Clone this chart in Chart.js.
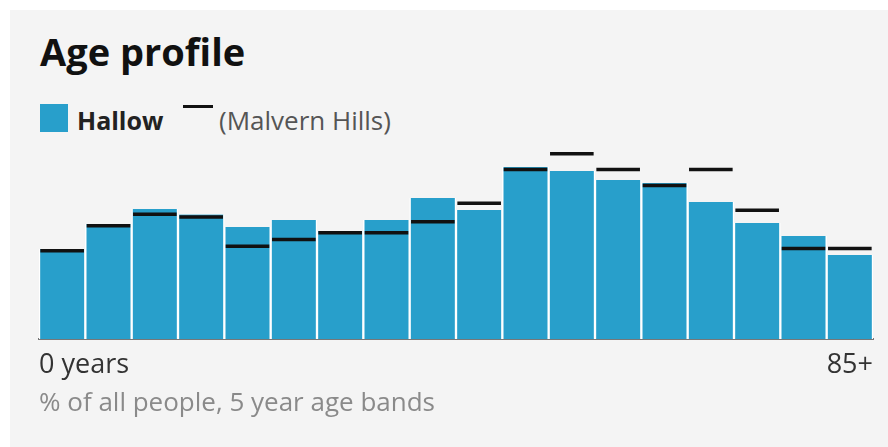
<!DOCTYPE html>
<html>
<head>
<meta charset="utf-8">
<script src="https://cdn.jsdelivr.net/npm/chart.js@4"></script>
<style>
  html, body { margin: 0; padding: 0; background: #fff; width: 888px; height: 447px; overflow: hidden; }
  body { position: relative; font-family: "Open Sans", sans-serif; }
  .panel { position: absolute; left: 10px; top: 10px; right: 0; bottom: 0; background: #f4f4f4; }
  .title { position: absolute; left: 40px; top: 25px; font-size: 38px; font-weight: 700; color: #111; line-height: normal; white-space: nowrap; }
  .key { position: absolute; left: 40px; top: 104px; width: 28px; height: 28px; background: #289fcb; }
  .lbl1 { position: absolute; left: 77px; top: 103px; font-size: 25px; font-weight: 700; color: #222; line-height: normal; white-space: nowrap; }
  .dash { position: absolute; left: 183px; top: 105px; width: 30px; height: 3px; background: #111; }
  .lbl2 { position: absolute; left: 219px; top: 102px; font-size: 26px; color: #555; line-height: normal; white-space: nowrap; }
  canvas { position: absolute; left: 0; top: 0; }
</style>
</head>
<body>
<div class="panel"></div>
<div class="title">Age profile</div>
<div class="key"></div>
<div class="lbl1">Hallow</div>
<div class="dash"></div>
<div class="lbl2">(Malvern Hills)</div>
<canvas id="ageChart" width="888" height="447"></canvas>
<script>
// bandas de edad de 5 años
const ageBands = ['0-4', '5-9', '10-14', '15-19', '20-24', '25-29', '30-34', '35-39', '40-44',
                  '45-49', '50-54', '55-59', '60-64', '65-69', '70-74', '75-79', '80-84', '85+'];
// % de todas las personas
const hallow  = [3.95, 5.04, 5.70, 5.46, 4.91, 5.22, 4.74, 5.22, 6.18, 5.66, 7.54, 7.37, 6.97, 6.84, 6.01, 5.09, 4.52, 3.68];
const malvern = [3.87, 4.97, 5.47, 5.35, 4.07, 4.36, 4.66, 4.66, 5.14, 5.96, 7.43, 8.13, 7.43, 6.73, 7.43, 5.65, 3.97, 3.97];
const edgeLabels = ['0 years', '85+'];
const yMax = 8.4;

const ctx = document.getElementById('ageChart');

new Chart(ctx, {
  data: {
    labels: ageBands,
    datasets: [
      {
        type: 'line',
        label: '(Malvern Hills)',
        data: malvern,
        showLine: false,
        pointStyle: 'line',
        pointRadius: 21.8,
        pointHoverRadius: 21.8,
        pointBorderWidth: 3.5,
        pointBorderColor: '#111',
        order: 0
      },
      {
        type: 'bar',
        label: 'Hallow',
        data: hallow,
        backgroundColor: '#289fcb',
        borderColor: '#ffffff',
        borderWidth: { left: 1.5, right: 1.5, top: 0, bottom: 0 },
        borderSkipped: false,
        barPercentage: 1,
        categoryPercentage: 1,
        order: 1
      }
    ]
  },
  options: {
    responsive: false,
    animation: false,
    devicePixelRatio: 1,
    layout: { autoPadding: false, padding: { left: 39, right: 15, top: 147.5, bottom: 0 } },
    plugins: { legend: { display: false }, tooltip: { enabled: false } },
    scales: {
      x: { type: 'category', display: false },
      y: { display: false, min: 0, max: yMax },
      xl: {
        type: 'linear',
        position: 'bottom',
        min: 0,
        max: ageBands.length,
        afterBuildTicks: scale => { scale.ticks = [{ value: 0 }, { value: ageBands.length }]; },
        afterFit: scale => {
          scale.height = 108;
          scale.paddingLeft = 0;
          scale.paddingRight = 0;
        },
        grid: { display: false, drawTicks: false },
        border: { display: true, color: '#777', width: 2 },
        ticks: {
          autoSkip: false,
          maxRotation: 0,
          align: 'inner',
          padding: 10,
          color: '#333',
          font: { family: 'Open Sans', size: 27 },
          callback: (value, index) => edgeLabels[index]
        },
        title: {
          display: true,
          align: 'start',
          text: '% of all people, 5 year age bands',
          color: '#8a8a8a',
          font: { family: 'Open Sans', size: 26 },
          padding: { top: 0, bottom: 28 }
        }
      }
    }
  }
});
</script>
</body>
</html>
